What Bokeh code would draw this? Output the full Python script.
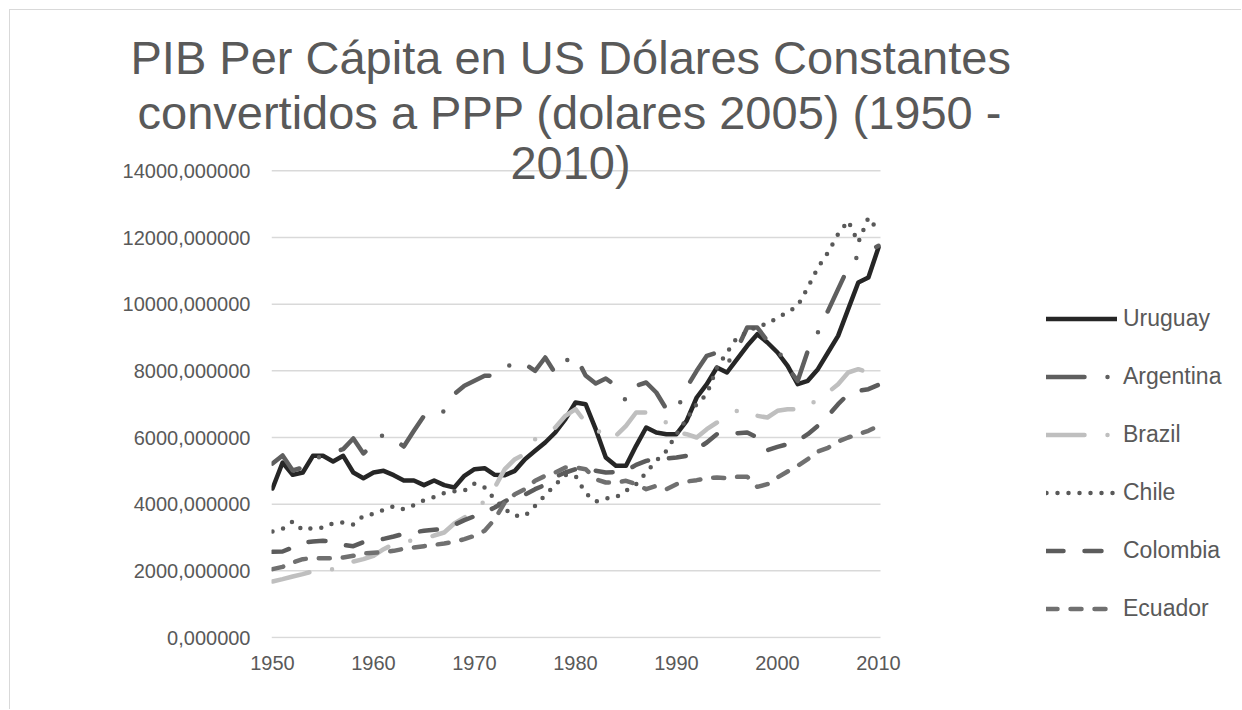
from bokeh.plotting import figure
from bokeh.models import Range1d, Label, Legend, LegendItem, FixedTicker, Title
from bokeh.embed import file_html
from bokeh.resources import INLINE

years = list(range(1950, 2011))

uruguay = [4470, 5250, 4880, 4950, 5450, 5450, 5280, 5450, 4950, 4780,
           4950, 5000, 4870, 4710, 4710, 4570, 4710, 4570, 4500, 4850,
           5050, 5080, 4880, 4870, 5000, 5350, 5600, 5850, 6150, 6550,
           7050, 7000, 6250, 5400, 5150, 5150, 5750, 6300, 6150, 6100,
           6100, 6500, 7200, 7600, 8100, 7950, 8350, 8750, 9100, 8850,
           8550, 8150, 7600, 7700, 8050, 8550, 9050, 9850, 10650, 10800,
           11700]
argentina = [5220, 5460, 5010, 5100, 5350, 5450, 5550, 5650, 5970, 5520,
             5800, 6100, 5950, 5730, 6200, 6650, 6600, 6800, 7300, 7550,
             7700, 7850, 7860, 8050, 8300, 8200, 8000, 8400, 7920, 8300,
             8450, 7860, 7620, 7770, 7550, 7100, 7550, 7650, 7350, 6850,
             6800, 7500, 8000, 8450, 8550, 8200, 8650, 9300, 9300, 8900,
             8650, 8100, 7700, 8600, 9150, 9800, 10450, 11100, 11450, 11600,
             11750]
brazil = [1680, 1750, 1830, 1900, 1990, 2040, 2050, 2190, 2280, 2350,
          2450, 2650, 2800, 2880, 2920, 2950, 3060, 3150, 3420, 3600,
          3800, 4100, 4500, 5050, 5350, 5500, 5950, 6150, 6300, 6650,
          6850, 6450, 6300, 5950, 6050, 6350, 6750, 6750, 6550, 6450,
          6150, 6100, 6000, 6250, 6450, 6650, 6800, 6850, 6650, 6600,
          6800, 6850, 6850, 6870, 7200, 7350, 7600, 7950, 8050, 7950,
          8250]
chile = [3180, 3260, 3480, 3220, 3290, 3290, 3430, 3450, 3390, 3650,
         3710, 3830, 3940, 3850, 3970, 4120, 4210, 4330, 4390, 4410,
         4620, 4500, 4150, 3850, 3650, 3650, 3950, 4270, 4580, 4880,
         4850, 4330, 4080, 4170, 4200, 4400, 4600, 4950, 5300, 5600,
         6100, 6550, 7000, 7300, 8100, 8550, 9000, 9150, 9350, 9400,
         9600, 9750, 9950, 10500, 11100, 11550, 12100, 12500, 11850, 12600,
         12200]
colombia = [2570, 2580, 2700, 2850, 2880, 2900, 2880, 2780, 2740, 2860,
            2900, 2960, 3030, 3110, 3160, 3200, 3230, 3260, 3380, 3520,
            3640, 3760, 3900, 4080, 4250, 4290, 4450, 4580, 4820, 4950,
            5050, 5050, 5000, 4950, 4960, 5000, 5180, 5300, 5360, 5370,
            5400, 5450, 5650, 5850, 6100, 6150, 6130, 6150, 6000, 5620,
            5720, 5800, 5900, 6100, 6350, 6650, 7000, 7300, 7400, 7450,
            7580]
ecuador = [2050, 2120, 2250, 2350, 2380, 2380, 2380, 2400, 2450, 2520,
           2540, 2560, 2600, 2660, 2700, 2740, 2780, 2820, 2870, 2950,
           3050, 3200, 3550, 4050, 4300, 4450, 4700, 4850, 4950, 5100,
           5100, 5050, 4750, 4650, 4650, 4700, 4600, 4450, 4550, 4450,
           4600, 4680, 4720, 4780, 4800, 4780, 4820, 4820, 4520, 4600,
           4800, 4980, 5150, 5350, 5580, 5690, 5880, 6000, 6100, 6200,
           6350]

series_names = ["Uruguay", "Argentina", "Brazil", "Chile", "Colombia", "Ecuador"]
series_values = [uruguay, argentina, brazil, chile, colombia, ecuador]
series_colors = ["#262626", "#5f5f5f", "#bfbfbf", "#595959", "#5c5c5c", "#707070"]
series_dashes = ["solid", "38 23 0 23", "38 23 0 23", "0 11", "17 21", "11 13"]

y_ticks = [0, 2000, 4000, 6000, 8000, 10000, 12000, 14000]
x_ticks = [1950, 1960, 1970, 1980, 1990, 2000, 2010]
title_lines = ["PIB Per Cápita en US Dólares Constantes",
               "convertidos a PPP (dolares 2005) (1950 -",
               "2010)"]

FONT = "Liberation Sans"
GRAY = "#595959"

# canvas origin on the page is (10, 10) because of margin + border
W, H = 1232, 700
ML, MR, MT, MB = 261, 0, 128, 72
PX_PER_YEAR = 10.1
X0 = 1950 - 1 / PX_PER_YEAR
X1 = X0 + (W - ML - MR) / PX_PER_YEAR   # frame extends under the legend area
GRID_X = (X0, 2010 + 2 / PX_PER_YEAR)    # grid lines stop at the end of the category axis

p = figure(width=W, height=H, output_backend="svg", toolbar_location=None,
           x_range=Range1d(X0, X1), y_range=Range1d(-30, 14970),
           min_border_left=ML, min_border_right=MR,
           min_border_top=MT, min_border_bottom=MB)
p.styles = {"margin-left": "9px", "margin-top": "9px",
            "border-top": "1px solid #d9d9d9", "border-left": "1px solid #d9d9d9"}
p.outline_line_color = None
p.background_fill_color = "white"
p.border_fill_color = "white"

p.xgrid.visible = False
p.ygrid.visible = False
p.segment(x0=[GRID_X[0]] * len(y_ticks), x1=[GRID_X[1]] * len(y_ticks),
          y0=y_ticks, y1=y_ticks, line_color="#d9d9d9", line_width=1.5)

p.yaxis.ticker = FixedTicker(ticks=y_ticks)
p.yaxis.major_label_overrides = {v: f"{v},000000" for v in y_ticks}
p.xaxis.ticker = FixedTicker(ticks=x_ticks)
for ax in (p.xaxis, p.yaxis):
    ax.axis_line_color = None
    ax.major_tick_line_color = None
    ax.minor_tick_line_color = None
    ax.major_tick_in = 0
    ax.major_tick_out = 0
    ax.major_label_text_font = FONT
    ax.major_label_text_font_size = "20px"
    ax.major_label_text_color = GRAY
p.yaxis.major_label_standoff = 21
p.xaxis.major_label_standoff = 17

items = []
for name, vals, col, dash in zip(series_names, series_values, series_colors, series_dashes):
    r = p.line(years, vals, line_color=col, line_width=4.5, line_dash=dash,
               line_cap="round", line_join="round")
    items.append(LegendItem(label=name, renderers=[r]))

legend = Legend(items=items, location=(775, 16), orientation="vertical",
                glyph_width=71, glyph_height=27, spacing=31, label_standoff=6,
                padding=0, margin=0, border_line_color=None,
                background_fill_alpha=0,
                label_text_font=FONT, label_text_font_size="23px",
                label_text_color=GRAY)
p.add_layout(legend)

# title: two lines above the frame (left-aligned with offsets so that both are
# centred near x=570 on the page), the last line overlaps the top of the frame
p.title.text = title_lines[0]
p.title.align = "left"
p.title.offset = -141
p.title.standoff = 0
p.title.text_font = FONT
p.title.text_font_size = "47px"
p.title.text_font_style = "normal"
p.title.text_color = GRAY
p.add_layout(Title(text=title_lines[1], align="left", offset=-134, standoff=0,
                   text_font=FONT, text_font_size="47px", text_font_style="normal",
                   text_color=GRAY), "above")
p.add_layout(Label(x=299, y=476, x_units="screen", y_units="screen",
                   text=title_lines[2], text_font=FONT, text_font_size="47px",
                   text_color=GRAY, text_align="center", text_baseline="middle"))

open("out.html", "w").write(file_html(p, INLINE))
